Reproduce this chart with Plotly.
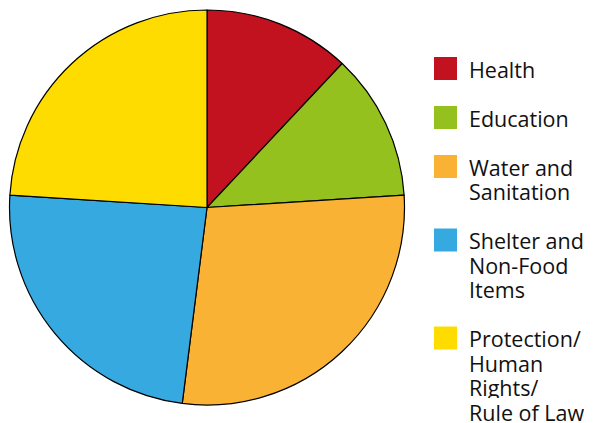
import plotly.graph_objects as go

categories = ["Health", "Education", "Water and Sanitation",
              "Shelter and Non-Food Items", "Protection/ Human Rights/ Rule of Law"]
values = [12, 12, 28, 24, 24]
colors = ["#C2121F", "#95C11F", "#F9B233", "#36A9E1", "#FFDC00"]
legend_labels = ["Health", "Education", "Water and<br>Sanitation",
                 "Shelter and<br>Non-Food<br>Items", "Protection/<br>Human<br>Rights/<br>Rule of Law"]

W, H = 595, 423
OFF = 8  # default page body margin


def px(x):
    return (x - OFF) / W


def py(y):
    return (H - (y - OFF)) / H


fig = go.Figure(go.Pie(
    labels=categories, values=values, sort=False, direction="clockwise", rotation=0,
    marker=dict(colors=colors, line=dict(color="#000000", width=1.2)),
    textinfo="none", hoverinfo="label+percent", showlegend=False,
    domain=dict(x=[px(9.5), px(404.5)], y=[py(405), py(10)]),
))

# manual legend
sq = 23
line_h = 24.5
gap = 49
y_center = 68.5
shapes, annots = [], []
for lab, col in zip(legend_labels, colors):
    lines = lab.split("<br>")
    shapes.append(dict(type="rect", xref="paper", yref="paper",
                       x0=px(434), x1=px(434 + sq),
                       y0=py(y_center - sq / 2), y1=py(y_center + sq / 2),
                       fillcolor=col, line=dict(width=0)))
    for i, ln in enumerate(lines):
        yc = y_center + i * line_h
        annots.append(dict(xref="paper", yref="paper", x=px(468), y=py(yc),
                           xanchor="left", yanchor="middle", showarrow=False, text=ln,
                           height=22, valign="middle", borderpad=0,
                           font=dict(family="Open Sans", size=21.5, color="#111111")))
    y_center += gap + (len(lines) - 1) * line_h

fig.update_layout(width=W, height=H, margin=dict(l=0, r=0, t=0, b=0),
                  paper_bgcolor="white", plot_bgcolor="white",
                  shapes=shapes, annotations=annots)
fig.write_html("out.html")
